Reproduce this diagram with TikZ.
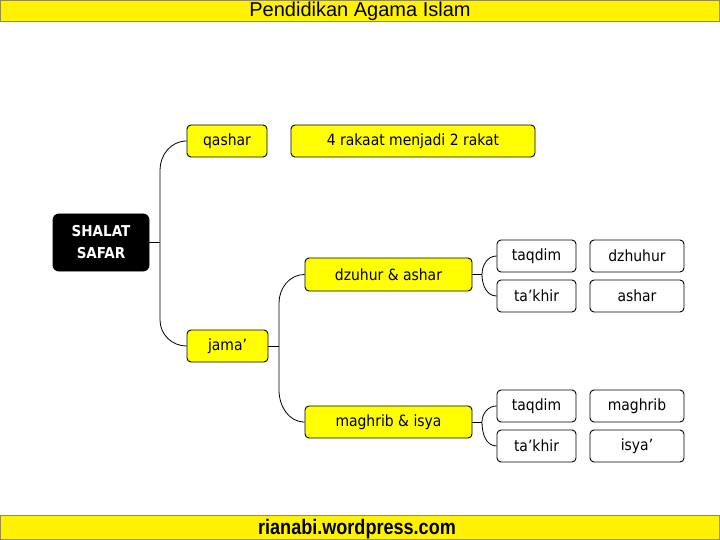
\documentclass[tikz,border=0pt]{standalone}
\usepackage{fontspec}
\setmainfont{DejaVu Sans Condensed}
\newfontfamily\barfont{Liberation Sans}
\definecolor{barYellow}{RGB}{255,242,0}
\definecolor{boxYellow}{RGB}{255,255,0}
\definecolor{barLine}{RGB}{150,140,70}

\tikzset{
  box/.style={draw=black, line width=0.9pt, rounded corners=4pt, inner sep=0pt,
    font=\fontsize{15.5}{19}\selectfont, minimum height=32pt},
  ybox/.style={box, fill=boxYellow},
  wbox/.style={box, fill=white},
  link/.style={line width=0.8pt}
}

\begin{document}
\begin{tikzpicture}[x=1pt,y=-1pt]
\useasboundingbox (0,0) rectangle (720,540);
\fill[white] (0,0) rectangle (720,540);
% header and footer
\draw[barLine, fill=barYellow] (0.5,0) rectangle (719.5,21);
\node[anchor=base, inner sep=0pt] (title) at (360,16.5) {\barfont\fontsize{20}{20}\selectfont Pendidikan Agama Islam};
\draw[barLine, fill=barYellow] (0.5,515.5) rectangle (719.5,539.5);
\node (site) at (357,529) {\barfont\bfseries\fontsize{21}{21}\selectfont\scalebox{0.86}[1]{rianabi.wordpress.com}};

\begin{scope}
\node[box, fill=black, text=white, rounded corners=6pt, align=center,
  font=\fontsize{15}{22}\selectfont\bfseries, minimum width=96pt, minimum height=57pt]
  (safar) at (101,242.5) {SHALAT\\SAFAR};
\node[ybox, minimum width=80pt] (qashar) at (227,141) {qashar};
\node[ybox, minimum width=244pt] (rakaat) at (413,141) {4 rakaat menjadi 2 rakat};
\node[ybox, minimum width=81pt] (jama) at (227.5,346) {jama’};
\node[ybox, minimum width=167pt, minimum height=33pt] (dzas) at (388.5,274.5) {dzuhur \& ashar};
\node[ybox, minimum width=167pt] (mais) at (388.5,422) {maghrib \& isya};
\node[wbox, minimum width=79pt] (taqA) at (536.5,256) {taqdim};
\node[wbox, minimum width=94pt] (dzh) at (637,256) {dzhuhur};
\node[wbox, minimum width=79pt] (takA) at (536.5,296) {ta’khir};
\node[wbox, minimum width=94pt] (ash) at (637,296) {ashar};
\node[wbox, minimum width=79pt] (taqB) at (536.5,406) {taqdim};
\node[wbox, minimum width=94pt] (mag) at (637,406) {maghrib};
\node[wbox, minimum width=79pt] (takB) at (536.5,446) {ta’khir};
\node[wbox, minimum width=94pt] (isy) at (637,446) {isya’};
\end{scope}

% branch points
\coordinate (s0) at (160,242.5);
\coordinate (s1) at (160,170);
\coordinate (s2) at (160,320);
\coordinate (j0) at (279,346);
\coordinate (j1) at (279,303);
\coordinate (j2) at (279,390);
\coordinate (d0) at (482,274.5);
\coordinate (m0) at (482,422);

\draw[link] (safar.east) -- (s0);
\draw[link] (qashar.west) to[out=180,in=90] (s1) -- (s2) to[out=-90,in=180] (jama.west);
\draw[link] (jama.east) -- (j0);
\draw[link] (dzas.west) to[out=180,in=90] (j1) -- (j2) to[out=-90,in=180] (mais.west);
\draw[link] (dzas.east) -- (d0);
\draw[link] (taqA.west) to[out=180,in=90] (d0) to[out=-90,in=180] (takA.west);
\draw[link] (mais.east) -- (m0);
\draw[link] (taqB.west) to[out=180,in=90] (m0) to[out=-90,in=180] (takB.west);
\end{tikzpicture}
\end{document}
